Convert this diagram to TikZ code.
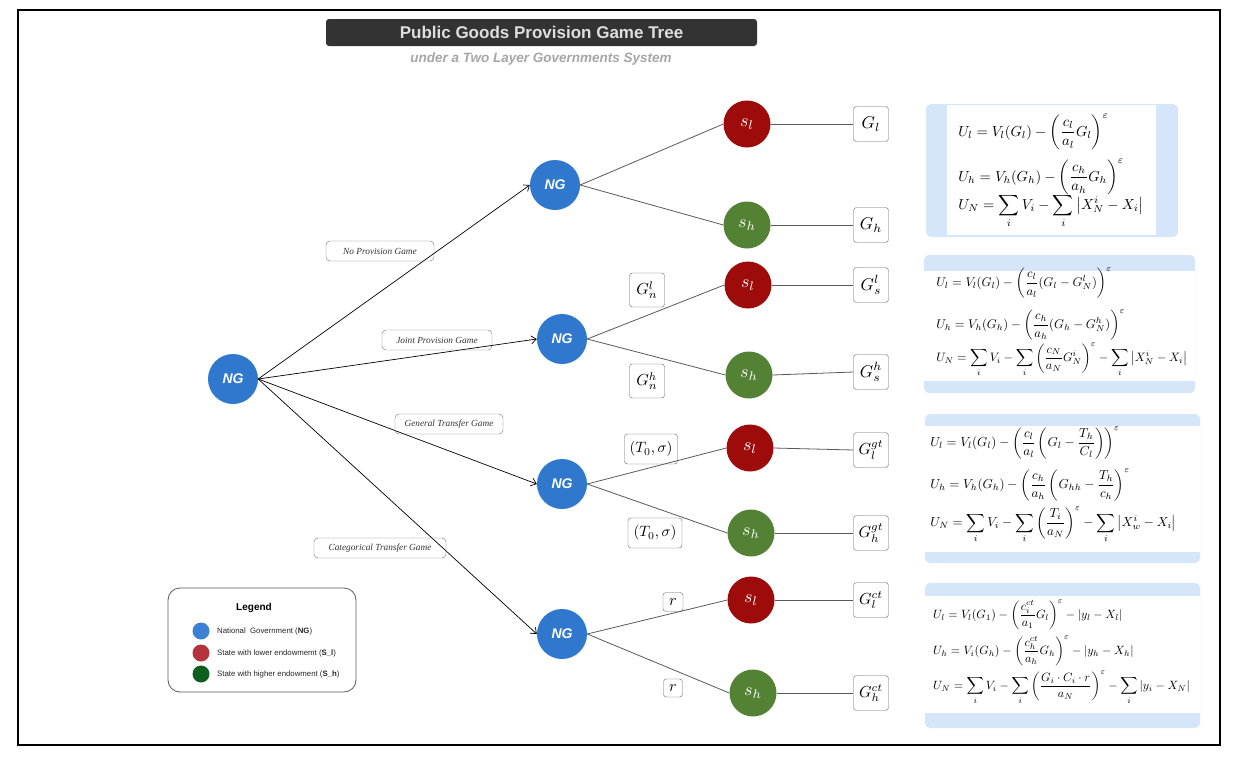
\documentclass[tikz,border=0pt]{standalone}
\usepackage{amsmath}
\usepackage{graphicx}
\usepackage{fontspec}
\newfontfamily\arialf{Liberation Sans}
\newfontfamily\serifi{Liberation Serif}
\usetikzlibrary{arrows.meta}
\definecolor{ngblue}{HTML}{2F78CE}
\definecolor{slred}{HTML}{9E0B0B}
\definecolor{shgreen}{HTML}{548235}
\definecolor{boxblue}{HTML}{D5E5FA}
\definecolor{lgred}{HTML}{B3343C}
\definecolor{lggreen}{HTML}{0E5E1E}
\definecolor{lgblue}{HTML}{3B80D2}
\definecolor{titlebg}{HTML}{333333}
\begin{document}
\begin{tikzpicture}[x=1pt,y=-1pt,
  ng/.style={circle,fill=ngblue,minimum size=50pt,inner sep=0pt,text=white,font=\arialf\bfseries\itshape\fontsize{14}{16}\selectfont},
  slnode/.style={circle,fill=slred,minimum size=47pt,inner sep=0pt,text=white},
  shnode/.style={circle,fill=shgreen,minimum size=47pt,inner sep=0pt,text=white},
  leaf/.style={draw=black!60,rounded corners=3pt,minimum width=35pt,minimum height=35pt,inner sep=0pt,fill=white},
  elab/.style={draw=black!60,rounded corners=3pt,inner sep=0pt},
  game/.style={draw=black!55,rounded corners=4pt,minimum height=20pt,inner sep=0pt,font=\serifi\itshape\fontsize{9.3}{11}\selectfont,text=black!80},
  arr/.style={-{Straight Barb[length=5pt,width=8pt]},black,line width=0.7pt},
  br/.style={black!65,line width=0.8pt},
  frm/.style={anchor=west,inner sep=0pt},
  lgtext/.style={anchor=west,inner sep=0pt,font=\arialf\fontsize{7.8}{9}\selectfont,text=black!85},
  lgdot/.style={circle,minimum size=17pt,inner sep=0pt}
]
\useasboundingbox (0,0) rectangle (1235,758);
\fill[white] (0,0) rectangle (1235,758);
\draw[line width=1.5pt] (18,10) rectangle (1220,745);

% title
\node[fill=titlebg,rounded corners=3pt,minimum width=431pt,minimum height=27pt,inner sep=0pt,
      text=black!13,font=\arialf\bfseries\fontsize{17}{19}\selectfont] (title) at (541.5,32.5) {Public Goods Provision Game Tree};
\node[text=black!35,font=\arialf\bfseries\itshape\fontsize{13.5}{15}\selectfont,inner sep=0pt] (subtitle) at (541,59) {under a Two Layer Governments System};

% tree nodes
\node[ng] (root) at (233,379) {NG};
\node[ng] (ng1) at (555,185) {NG};
\node[ng] (ng2) at (562,339) {NG};
\node[ng] (ng3) at (562,484) {NG};
\node[ng] (ng4) at (562,634) {NG};

\node[slnode] (sl1) at (747,124) {\scalebox{1.8}{$s_l$}};
\node[shnode] (sh1) at (747,225) {\scalebox{1.8}{$s_h$}};
\node[slnode] (sl2) at (748,285) {\scalebox{1.8}{$s_l$}};
\node[shnode] (sh2) at (749,375) {\scalebox{1.8}{$s_h$}};
\node[slnode] (sl3) at (750,448) {\scalebox{1.8}{$s_l$}};
\node[shnode] (sh3) at (751,533) {\scalebox{1.8}{$s_h$}};
\node[slnode] (sl4) at (751,600) {\scalebox{1.8}{$s_l$}};
\node[shnode] (sh4) at (753,693) {\scalebox{1.8}{$s_h$}};

\node[leaf] (g1) at (871,124) {\scalebox{1.7}{$G_l$}};
\node[leaf] (g2) at (871,225) {\scalebox{1.7}{$G_h$}};
\node[leaf] (g3) at (871,285) {\scalebox{1.7}{$G_s^l$}};
\node[leaf] (g4) at (871,372) {\scalebox{1.7}{$G_s^h$}};
\node[leaf] (g5) at (871,450) {\scalebox{1.6}{$G_l^{gt}$}};
\node[leaf] (g6) at (871,533) {\scalebox{1.6}{$G_h^{gt}$}};
\node[leaf] (g7) at (871,600) {\scalebox{1.6}{$G_l^{ct}$}};
\node[leaf] (g8) at (871,693) {\scalebox{1.6}{$G_h^{ct}$}};

% edge labels (payoff parameters)
\node[elab,minimum width=35pt,minimum height=34pt] (pa) at (647,290) {\scalebox{1.6}{$G_n^l$}};
\node[elab,minimum width=35pt,minimum height=34pt] (pb) at (647,381) {\scalebox{1.6}{$G_n^h$}};
\node[elab,minimum width=53pt,minimum height=30pt] (pc) at (651,449) {\scalebox{1.5}{$(T_0,\sigma)$}};
\node[elab,minimum width=54pt,minimum height=30pt] (pd) at (655,533) {\scalebox{1.5}{$(T_0,\sigma)$}};
\node[elab,minimum width=20pt,minimum height=19pt] (pe) at (673,602) {\scalebox{1.6}{$r$}};
\node[elab,minimum width=19pt,minimum height=18pt] (pf) at (673,688) {\scalebox{1.6}{$r$}};

% connectors
\draw[arr] (root.east) -- (ng1.west);
\draw[arr] (root.east) -- (ng2.west);
\draw[arr] (root.east) -- (ng3.west);
\draw[arr] (root.east) -- (ng4.west);
\foreach \n/\a/\b in {ng1/sl1/sh1,ng2/sl2/sh2,ng3/sl3/sh3,ng4/sl4/sh4}{
  \draw[br] (\n.east) -- (\a.west);
  \draw[br] (\n.east) -- (\b.west);
}
\draw[br] (sl1.east) -- (g1.west);
\draw[br] (sh1.east) -- (g2.west);
\draw[br] (sl2.east) -- (g3.west);
\draw[br] (sh2.east) -- (g4.west);
\draw[br] (sl3.east) -- (g5.west);
\draw[br] (sh3.east) -- (g6.west);
\draw[br] (sl4.east) -- (g7.west);
\draw[br] (sh4.east) -- (g8.west);

% game labels
\node[game,minimum width=108pt] (gnp) at (380,251) {No Provision Game};
\node[game,minimum width=110pt] (gjp) at (437,340) {Joint Provision Game};
\node[game,minimum width=108pt] (ggt) at (449,424) {General Transfer Game};
\node[game,minimum width=132pt] (gct) at (380,548) {Categorical Transfer Game};

% formula boxes
\fill[boxblue,rounded corners=5pt] (926,104) rectangle (1178,237);
\fill[white] (947,105) rectangle (1156,235);
\fill[boxblue,rounded corners=5pt] (924,255) rectangle (1195,393);
\fill[white] (924,271) rectangle (1195,381);
\fill[boxblue,rounded corners=5pt] (925,414) rectangle (1200,563);
\fill[white] (925,426) rectangle (1200,552);
\fill[boxblue,rounded corners=5pt] (925,583) rectangle (1200,728);
\fill[white] (925,596) rectangle (1200,713);

\node[frm,scale=1.45] (f1a) at (958,132) {$\displaystyle U_l = V_l(G_l) - \left(\frac{c_l}{a_l}G_l\right)^{\varepsilon}$};
\node[frm,scale=1.45] (f1b) at (958,177) {$\displaystyle U_h = V_h(G_h) - \left(\frac{c_h}{a_h}G_h\right)^{\varepsilon}$};
\node[frm,scale=1.45] (f1c) at (958,211) {$\displaystyle U_N = \sum_i V_i - \sum_i \left|X_N^i - X_i\right|$};

\node[frm,scale=1.26] (f2a) at (936,283) {$\displaystyle U_l = V_l(G_l) - \left(\frac{c_l}{a_l}(G_l - G_N^l)\right)^{\varepsilon}$};
\node[frm,scale=1.26] (f2b) at (936,325) {$\displaystyle U_h = V_h(G_h) - \left(\frac{c_h}{a_h}(G_h - G_N^h)\right)^{\varepsilon}$};
\node[frm,scale=1.22] (f2c) at (936,360) {$\displaystyle U_N = \sum_i V_i - \sum_i \left(\frac{c_N}{a_N}G_N^i\right)^{\varepsilon} - \sum_i \left|X_N^i - X_i\right|$};

\node[frm,scale=1.3] (f3a) at (930,443) {$\displaystyle U_l = V_l(G_l) - \left(\frac{c_l}{a_l}\left(G_l - \frac{T_h}{C_l}\right)\right)^{\varepsilon}$};
\node[frm,scale=1.3] (f3b) at (930,485) {$\displaystyle U_h = V_h(G_h) - \left(\frac{c_h}{a_h}\left(G_{hh} - \frac{T_h}{c_h}\right)^{\varepsilon}\right.$};
\node[frm,scale=1.3] (f3c) at (930,525) {$\displaystyle U_N = \sum_i V_i - \sum_i \left(\frac{T_i}{a_N}\right)^{\varepsilon} - \sum_i \left|X_w^i - X_i\right|$};

\node[frm,scale=1.2] (f4a) at (933,615) {$\displaystyle U_l = V_l(G_1) - \left(\frac{c_i^{ct}}{a_1}G_l\right)^{\varepsilon} - |y_l - X_l|$};
\node[frm,scale=1.2] (f4b) at (933,651) {$\displaystyle U_h = V_i(G_h) - \left(\frac{c_h^{ct}}{a_h}G_h\right)^{\varepsilon} - |y_h - X_h|$};
\node[frm,scale=1.2] (f4c) at (933,688) {$\displaystyle U_N = \sum_i V_i - \sum_i \left(\frac{G_i\cdot C_i\cdot r}{a_N}\right)^{\varepsilon} - \sum_i |y_i - X_N|$};

% legend
\draw[black!65,line width=0.8pt,rounded corners=12pt] (168,588) rectangle (356,692);
\node[inner sep=0pt,font=\arialf\bfseries\fontsize{10}{12}\selectfont] (lgt) at (254,608) {Legend};
\node[lgdot,fill=lgblue] (d1) at (201,631) {};
\node[lgdot,fill=lgred] (d2) at (201,653) {};
\node[lgdot,fill=lggreen] (d3) at (201,674) {};
\node[lgtext] (t1) at (217,631) {National\ \ Government (\textbf{NG})};
\node[lgtext] (t2) at (217,653) {State with lower endowmemt (\textbf{S\_l})};
\node[lgtext] (t3) at (217,674) {State with higher endowment (\textbf{S\_h})};
\end{tikzpicture}
\end{document}
